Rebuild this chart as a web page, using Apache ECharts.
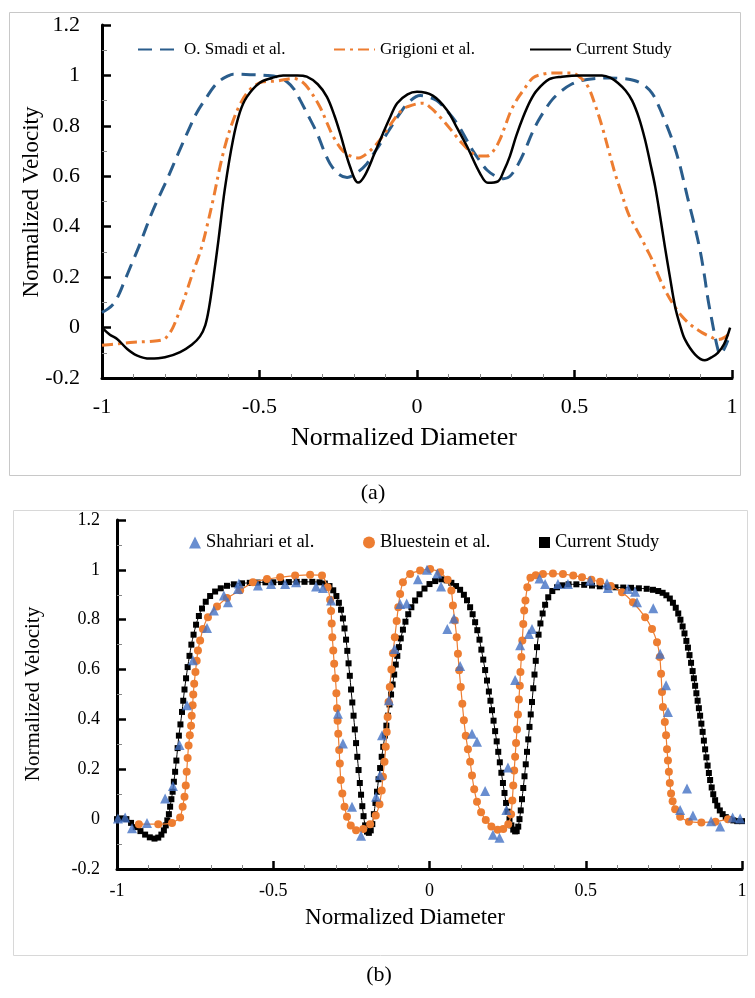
<!DOCTYPE html>
<html><head><meta charset="utf-8">
<script src="https://cdn.jsdelivr.net/npm/echarts/dist/echarts.min.js"></script>
<style>html,body{margin:0;padding:0;background:#fff}#c{width:755px;height:998px}</style>
</head><body><div id="c"></div>
<script>
// ---------- Chart (a) data ----------
const smadiA = [[-1,0.06],[-0.98,0.075],[-0.96,0.1],[-0.945,0.135],[-0.93,0.18],[-0.905,0.255],[-0.88,0.33],[-0.84,0.46],[-0.794,0.586],[-0.76,0.685],[-0.73,0.77],[-0.7,0.85],[-0.667,0.915],[-0.645,0.955],[-0.625,0.98],[-0.6,0.998],[-0.584,1.005],[-0.53,1.003],[-0.476,1.0],[-0.44,0.993],[-0.413,0.975],[-0.39,0.945],[-0.37,0.9],[-0.345,0.84],[-0.317,0.77],[-0.295,0.7],[-0.276,0.65],[-0.25,0.61],[-0.222,0.595],[-0.19,0.615],[-0.159,0.65],[-0.135,0.695],[-0.108,0.745],[-0.08,0.8],[-0.054,0.85],[-0.025,0.895],[0.01,0.92],[0.035,0.915],[0.063,0.9],[0.095,0.86],[0.127,0.81],[0.153,0.755],[0.178,0.7],[0.2,0.66],[0.222,0.625],[0.25,0.6],[0.275,0.59],[0.295,0.6],[0.32,0.645],[0.34,0.695],[0.365,0.77],[0.385,0.82],[0.406,0.863],[0.43,0.905],[0.46,0.94],[0.49,0.965],[0.524,0.98],[0.56,0.987],[0.606,0.99],[0.65,0.988],[0.69,0.98],[0.72,0.962],[0.746,0.93],[0.765,0.885],[0.787,0.82],[0.81,0.745],[0.83,0.665],[0.845,0.59],[0.86,0.51],[0.88,0.41],[0.898,0.31],[0.912,0.21],[0.924,0.11],[0.936,0.03],[0.946,-0.035],[0.955,-0.085],[0.962,-0.107],[0.975,-0.085],[0.987,-0.05]];
const grigioniA = [[-1,-0.07],[-0.952,-0.065],[-0.9,-0.058],[-0.85,-0.055],[-0.806,-0.048],[-0.79,-0.03],[-0.775,0],[-0.76,0.045],[-0.743,0.1],[-0.727,0.16],[-0.711,0.22],[-0.695,0.275],[-0.68,0.335],[-0.667,0.4],[-0.645,0.52],[-0.625,0.64],[-0.605,0.74],[-0.584,0.82],[-0.562,0.885],[-0.54,0.93],[-0.515,0.96],[-0.489,0.975],[-0.444,0.978],[-0.394,0.988],[-0.365,0.975],[-0.34,0.94],[-0.308,0.875],[-0.285,0.81],[-0.267,0.76],[-0.235,0.7],[-0.21,0.68],[-0.185,0.673],[-0.155,0.695],[-0.127,0.73],[-0.1,0.775],[-0.076,0.82],[-0.05,0.86],[-0.032,0.875],[0.019,0.89],[0.045,0.87],[0.073,0.835],[0.114,0.775],[0.14,0.735],[0.168,0.7],[0.195,0.68],[0.222,0.68],[0.245,0.705],[0.263,0.745],[0.28,0.8],[0.295,0.85],[0.315,0.9],[0.337,0.94],[0.368,0.99],[0.4,1.005],[0.43,1.01],[0.49,1.01],[0.52,0.99],[0.543,0.955],[0.565,0.885],[0.587,0.8],[0.608,0.705],[0.629,0.61],[0.65,0.53],[0.67,0.455],[0.692,0.4],[0.714,0.35],[0.73,0.31],[0.746,0.27],[0.765,0.21],[0.787,0.15],[0.812,0.095],[0.841,0.045],[0.87,0.01],[0.905,-0.02],[0.93,-0.035],[0.955,-0.048],[0.975,-0.04],[0.994,-0.02]];
const currentA = [[-1,0],[-0.975,-0.028],[-0.952,-0.045],[-0.92,-0.085],[-0.89,-0.11],[-0.848,-0.123],[-0.8,-0.118],[-0.752,-0.097],[-0.715,-0.068],[-0.689,-0.035],[-0.672,0.01],[-0.66,0.08],[-0.647,0.19],[-0.63,0.35],[-0.61,0.55],[-0.584,0.745],[-0.562,0.855],[-0.54,0.915],[-0.5,0.97],[-0.46,0.99],[-0.425,1.0],[-0.38,1.0],[-0.35,0.995],[-0.315,0.965],[-0.286,0.915],[-0.262,0.84],[-0.244,0.77],[-0.213,0.64],[-0.187,0.575],[-0.165,0.605],[-0.135,0.69],[-0.108,0.77],[-0.085,0.835],[-0.063,0.89],[-0.03,0.925],[0,0.935],[0.05,0.92],[0.095,0.863],[0.128,0.79],[0.159,0.718],[0.2,0.612],[0.225,0.574],[0.257,0.58],[0.275,0.62],[0.295,0.68],[0.315,0.76],[0.337,0.835],[0.36,0.9],[0.38,0.94],[0.42,0.985],[0.46,0.995],[0.52,1.0],[0.587,1.0],[0.615,0.99],[0.638,0.97],[0.662,0.94],[0.683,0.9],[0.705,0.83],[0.724,0.745],[0.74,0.655],[0.756,0.56],[0.772,0.44],[0.787,0.32],[0.803,0.2],[0.819,0.085],[0.835,0.01],[0.851,-0.048],[0.883,-0.107],[0.914,-0.13],[0.935,-0.118],[0.955,-0.1],[0.975,-0.065],[0.994,0]];

// ---------- Chart (b) data ----------
const shahriariB = [[-0.997,0.003],[-0.974,0.007],[-0.952,-0.037],[-0.904,-0.015],[-0.846,0.083],[-0.821,0.133],[-0.8,0.297],[-0.776,0.457],[-0.757,0.637],[-0.712,0.767],[-0.69,0.837],[-0.658,0.897],[-0.645,0.87],[-0.613,0.923],[-0.61,0.945],[-0.549,0.937],[-0.507,0.943],[-0.462,0.943],[-0.427,0.95],[-0.363,0.933],[-0.341,0.927],[-0.315,0.877],[-0.293,0.423],[-0.277,0.303],[-0.248,0.05],[-0.219,-0.067],[-0.171,0.09],[-0.158,0.177],[-0.152,0.337],[-0.13,0.477],[-0.112,0.683],[-0.094,0.863],[-0.073,0.865],[-0.037,0.962],[-0.008,1.0],[0.025,0.985],[0.037,0.933],[0.057,0.763],[0.078,0.805],[0.098,0.614],[0.136,0.343],[0.152,0.31],[0.178,0.113],[0.203,-0.063],[0.224,-0.075],[0.246,0.037],[0.251,0.207],[0.274,0.558],[0.29,0.698],[0.318,0.743],[0.328,0.763],[0.352,0.965],[0.37,0.943],[0.411,0.943],[0.443,0.943],[0.514,0.957],[0.568,0.945],[0.571,0.927],[0.635,0.923],[0.658,0.912],[0.664,0.87],[0.716,0.846],[0.738,0.663],[0.757,0.537],[0.763,0.43],[0.802,0.037],[0.824,0.123],[0.843,0.015],[0.901,-0.008],[0.93,-0.03],[0.97,0.007],[0.994,0.003]];
const bluesteinB = [[-0.93,-0.02],[-0.868,-0.02],[-0.824,-0.015],[-0.798,0.007],[-0.79,0.05],[-0.784,0.09],[-0.78,0.135],[-0.777,0.19],[-0.774,0.245],[-0.771,0.295],[-0.767,0.337],[-0.763,0.375],[-0.761,0.415],[-0.758,0.457],[-0.756,0.5],[-0.753,0.543],[-0.749,0.59],[-0.745,0.635],[-0.741,0.677],[-0.734,0.717],[-0.725,0.763],[-0.709,0.81],[-0.68,0.853],[-0.648,0.887],[-0.606,0.918],[-0.565,0.95],[-0.52,0.963],[-0.478,0.97],[-0.43,0.977],[-0.382,0.98],[-0.344,0.977],[-0.326,0.93],[-0.318,0.88],[-0.315,0.835],[-0.313,0.785],[-0.311,0.73],[-0.308,0.677],[-0.305,0.623],[-0.301,0.565],[-0.298,0.505],[-0.296,0.445],[-0.294,0.395],[-0.292,0.343],[-0.289,0.277],[-0.287,0.223],[-0.284,0.157],[-0.279,0.103],[-0.272,0.05],[-0.264,0.01],[-0.252,-0.025],[-0.235,-0.045],[-0.212,-0.04],[-0.19,-0.02],[-0.172,0.015],[-0.16,0.06],[-0.153,0.115],[-0.149,0.17],[-0.144,0.23],[-0.14,0.29],[-0.137,0.35],[-0.134,0.41],[-0.131,0.47],[-0.127,0.53],[-0.122,0.6],[-0.117,0.665],[-0.111,0.73],[-0.105,0.795],[-0.1,0.85],[-0.094,0.903],[-0.085,0.95],[-0.062,0.983],[-0.03,0.997],[0.002,1.003],[0.034,0.99],[0.058,0.96],[0.07,0.917],[0.075,0.857],[0.081,0.797],[0.087,0.73],[0.091,0.663],[0.095,0.597],[0.1,0.53],[0.105,0.463],[0.11,0.397],[0.116,0.335],[0.123,0.28],[0.13,0.23],[0.136,0.175],[0.143,0.12],[0.152,0.07],[0.165,0.028],[0.18,-0.003],[0.198,-0.03],[0.218,-0.043],[0.236,-0.04],[0.252,-0.02],[0.261,0.02],[0.265,0.075],[0.268,0.135],[0.271,0.195],[0.274,0.25],[0.277,0.305],[0.28,0.36],[0.283,0.42],[0.286,0.48],[0.289,0.535],[0.291,0.59],[0.294,0.65],[0.297,0.717],[0.3,0.783],[0.303,0.837],[0.307,0.877],[0.313,0.93],[0.323,0.968],[0.34,0.978],[0.363,0.983],[0.395,0.985],[0.427,0.983],[0.46,0.977],[0.488,0.97],[0.518,0.96],[0.546,0.952],[0.58,0.935],[0.616,0.91],[0.651,0.87],[0.69,0.81],[0.712,0.763],[0.728,0.71],[0.737,0.65],[0.741,0.583],[0.744,0.51],[0.747,0.45],[0.753,0.39],[0.757,0.337],[0.76,0.28],[0.763,0.235],[0.766,0.19],[0.769,0.145],[0.773,0.103],[0.778,0.072],[0.786,0.04],[0.802,0.01],[0.83,-0.01],[0.87,-0.013],[0.915,-0.01],[0.955,0.0]];
const currentB = [[-1,0],[-0.985,0.003],[-0.97,0],[-0.955,-0.015],[-0.94,-0.032],[-0.925,-0.048],[-0.91,-0.062],[-0.895,-0.073],[-0.88,-0.078],[-0.868,-0.074],[-0.858,-0.062],[-0.85,-0.045],[-0.844,-0.025],[-0.839,-0.005],[-0.834,0.02],[-0.83,0.05],[-0.826,0.08],[-0.822,0.11],[-0.818,0.15],[-0.814,0.19],[-0.81,0.235],[-0.806,0.285],[-0.802,0.335],[-0.797,0.38],[-0.792,0.43],[-0.788,0.475],[-0.784,0.52],[-0.779,0.565],[-0.774,0.61],[-0.768,0.655],[-0.762,0.7],[-0.755,0.74],[-0.747,0.78],[-0.738,0.815],[-0.728,0.845],[-0.716,0.872],[-0.702,0.895],[-0.686,0.913],[-0.668,0.926],[-0.648,0.936],[-0.626,0.942],[-0.6,0.946],[-0.575,0.948],[-0.55,0.949],[-0.525,0.95],[-0.5,0.95],[-0.475,0.951],[-0.45,0.951],[-0.425,0.952],[-0.4,0.952],[-0.375,0.952],[-0.352,0.95],[-0.335,0.945],[-0.32,0.935],[-0.308,0.918],[-0.298,0.895],[-0.29,0.868],[-0.283,0.84],[-0.277,0.805],[-0.272,0.765],[-0.267,0.72],[-0.263,0.675],[-0.259,0.625],[-0.255,0.575],[-0.251,0.52],[-0.247,0.468],[-0.243,0.415],[-0.239,0.36],[-0.235,0.305],[-0.231,0.25],[-0.227,0.197],[-0.223,0.145],[-0.219,0.098],[-0.215,0.052],[-0.211,0.012],[-0.206,-0.025],[-0.2,-0.05],[-0.194,-0.055],[-0.188,-0.045],[-0.183,-0.02],[-0.178,0.02],[-0.173,0.065],[-0.168,0.11],[-0.163,0.16],[-0.158,0.205],[-0.153,0.25],[-0.148,0.29],[-0.143,0.335],[-0.138,0.375],[-0.133,0.415],[-0.128,0.46],[-0.123,0.5],[-0.118,0.54],[-0.113,0.58],[-0.108,0.62],[-0.103,0.655],[-0.098,0.69],[-0.092,0.725],[-0.085,0.76],[-0.077,0.792],[-0.068,0.822],[-0.058,0.85],[-0.046,0.877],[-0.032,0.902],[-0.016,0.925],[0,0.943],[0.018,0.955],[0.038,0.962],[0.055,0.958],[0.07,0.948],[0.085,0.935],[0.098,0.92],[0.11,0.9],[0.12,0.878],[0.13,0.85],[0.138,0.822],[0.146,0.79],[0.153,0.758],[0.16,0.72],[0.166,0.68],[0.172,0.64],[0.178,0.598],[0.184,0.556],[0.19,0.512],[0.195,0.475],[0.2,0.437],[0.205,0.395],[0.21,0.353],[0.215,0.312],[0.22,0.27],[0.225,0.228],[0.23,0.186],[0.235,0.145],[0.24,0.105],[0.245,0.065],[0.25,0.03],[0.256,0],[0.262,-0.025],[0.268,-0.042],[0.274,-0.049],[0.279,-0.048],[0.284,-0.03],[0.288,0],[0.292,0.035],[0.296,0.08],[0.3,0.125],[0.304,0.172],[0.308,0.22],[0.312,0.27],[0.316,0.32],[0.32,0.37],[0.324,0.42],[0.328,0.47],[0.332,0.525],[0.336,0.58],[0.34,0.635],[0.344,0.69],[0.349,0.74],[0.355,0.785],[0.362,0.825],[0.37,0.86],[0.38,0.89],[0.393,0.915],[0.408,0.93],[0.425,0.938],[0.445,0.942],[0.47,0.942],[0.495,0.94],[0.52,0.937],[0.545,0.934],[0.57,0.932],[0.595,0.93],[0.62,0.929],[0.645,0.928],[0.67,0.926],[0.695,0.924],[0.715,0.92],[0.732,0.915],[0.746,0.908],[0.758,0.898],[0.769,0.885],[0.779,0.868],[0.788,0.848],[0.796,0.825],[0.803,0.8],[0.81,0.773],[0.816,0.745],[0.822,0.715],[0.827,0.688],[0.832,0.658],[0.837,0.627],[0.842,0.594],[0.846,0.565],[0.85,0.535],[0.854,0.505],[0.858,0.475],[0.862,0.445],[0.866,0.415],[0.87,0.383],[0.874,0.35],[0.878,0.315],[0.882,0.28],[0.886,0.248],[0.89,0.215],[0.894,0.185],[0.898,0.157],[0.903,0.127],[0.908,0.1],[0.914,0.076],[0.921,0.054],[0.929,0.035],[0.938,0.02],[0.948,0.008],[0.96,0],[0.972,-0.005],[0.985,-0.008],[1,-0.008]];

const seriesNamesA = ['O. Smadi et al.', 'Grigioni et al.', 'Current Study'];
const seriesNamesB = ['Shahriari et al.', 'Bluestein et al.', 'Current Study'];
const axisTitles = {x: 'Normalized Diameter', y: 'Normalized Velocity'};
const panelLabels = ['(a)', '(b)'];

const FF = "'Liberation Serif','Times New Roman',serif";
const BLUE_A = '#2A5D8C', ORANGE = '#ED7D31', BLUE_B = '#4472C4';

function xAxisCfg(grid, fs, margin){
  return {gridIndex: grid, type: 'value', min: -1, max: 1, interval: 0.5,
    axisLine: {onZero: false, lineStyle: {color: '#000', width: 3}},
    axisTick: {inside: true, length: 8, lineStyle: {color: '#000', width: 2.5}},
    minorTick: {show: true, splitNumber: 5, length: 4, lineStyle: {color: '#888', width: 1}},
    splitLine: {show: false}, minorSplitLine: {show: false},
    axisLabel: {color: '#000', fontSize: fs, fontFamily: FF, margin: margin}};
}
function yAxisCfg(grid, fs, margin){
  return {gridIndex: grid, type: 'value', min: -0.2, max: 1.2, interval: 0.2,
    axisLine: {onZero: false, lineStyle: {color: '#000', width: 3}},
    axisTick: {inside: true, length: 9, lineStyle: {color: '#000', width: 2.5}},
    minorTick: {show: true, splitNumber: 2, length: 5, lineStyle: {color: '#888', width: 1}},
    splitLine: {show: false}, minorSplitLine: {show: false},
    axisLabel: {color: '#000', fontSize: fs, fontFamily: FF, margin: margin}};
}
function legendCfg(name, left, top, w, h, fs, icon){
  const item = {name: name};
  const cfg = {data: [item], left: left, top: top, padding: 0, itemWidth: w, itemHeight: h,
    selectedMode: false, textStyle: {color: '#000', fontSize: fs, fontFamily: FF}};
  if (icon) item.icon = icon;
  else cfg.itemStyle = {opacity: 0};
  return cfg;
}
function txt(t, x, y, fs, rot){
  return {type: 'text', x: x, y: y, rotation: rot || 0, silent: true,
    style: {text: t, fontSize: fs, fontFamily: FF, fill: '#000',
      textAlign: 'center', textVerticalAlign: 'middle', align: 'center', verticalAlign: 'middle'}};
}

const chart = echarts.init(document.getElementById('c'), null, {renderer: 'canvas'});
chart.setOption({
  backgroundColor: '#fff',
  animation: false,
  grid: [
    {left: 102, top: 25, width: 630, height: 353, outerBoundsMode: 'none', containLabel: false},
    {left: 117, top: 520, width: 625, height: 349, outerBoundsMode: 'none', containLabel: false}
  ],
  xAxis: [xAxisCfg(0, 22, 18), xAxisCfg(1, 18, 13)],
  yAxis: [yAxisCfg(0, 22, 22), yAxisCfg(1, 18, 17)],
  legend: [
    legendCfg(seriesNamesA[0], 137, 41, 41, 14, 17),
    legendCfg(seriesNamesA[1], 333, 41, 41, 14, 17),
    legendCfg(seriesNamesA[2], 529, 41, 41, 14, 17),
    legendCfg(seriesNamesB[0], 189, 533, 12, 12, 18.5, 'triangle'),
    legendCfg(seriesNamesB[1], 363, 533, 12, 12, 18.5, 'circle'),
    legendCfg(seriesNamesB[2], 539, 533, 11, 11, 18.5, 'rect')
  ],
  graphic: [
    {type: 'rect', shape: {x: 9.5, y: 12.5, width: 731, height: 463}, style: {fill: 'none', stroke: '#c8c8c8', lineWidth: 1}, silent: true},
    {type: 'rect', shape: {x: 13.5, y: 510.5, width: 734, height: 445}, style: {fill: 'none', stroke: '#d8d8d8', lineWidth: 1}, silent: true},
    txt(axisTitles.y, 32, 202, 23, Math.PI / 2),
    txt(axisTitles.x, 404, 438, 26),
    txt(axisTitles.y, 33, 694, 21, Math.PI / 2),
    txt(axisTitles.x, 405, 918, 23),
    txt(panelLabels[0], 373, 493, 22),
    txt(panelLabels[1], 379, 975, 22)
  ],
  series: [
    {name: seriesNamesA[0], type: 'line', xAxisIndex: 0, yAxisIndex: 0, data: smadiA, symbol: 'none', smooth: 0.35,
      lineStyle: {color: BLUE_A, width: 3, type: [14, 8]}, itemStyle: {color: BLUE_A}, z: 3},
    {name: seriesNamesA[1], type: 'line', xAxisIndex: 0, yAxisIndex: 0, data: grigioniA, symbol: 'none', smooth: 0.35,
      lineStyle: {color: ORANGE, width: 3, type: [11, 5, 3, 5]}, itemStyle: {color: ORANGE}, z: 3},
    {name: seriesNamesA[2], type: 'line', xAxisIndex: 0, yAxisIndex: 0, data: currentA, symbol: 'none', smooth: 0.35,
      lineStyle: {color: '#000', width: 2.5}, itemStyle: {color: '#000'}, z: 4},
    {name: seriesNamesB[2], type: 'line', xAxisIndex: 1, yAxisIndex: 1, data: currentB, symbol: 'rect', symbolSize: 6, showSymbol: true, smooth: 0.2,
      lineStyle: {color: '#000', width: 1}, itemStyle: {color: '#000'}, z: 2},
    {name: seriesNamesB[1], type: 'line', xAxisIndex: 1, yAxisIndex: 1, data: bluesteinB, symbol: 'circle', symbolSize: 8, showSymbol: true, smooth: 0.2,
      lineStyle: {color: ORANGE, width: 1.2}, itemStyle: {color: ORANGE}, z: 3},
    {name: seriesNamesB[0], type: 'scatter', xAxisIndex: 1, yAxisIndex: 1, data: shahriariB, symbol: 'triangle', symbolSize: 10,
      itemStyle: {color: BLUE_B}, z: 4}
  ]
});
</script></body></html>
